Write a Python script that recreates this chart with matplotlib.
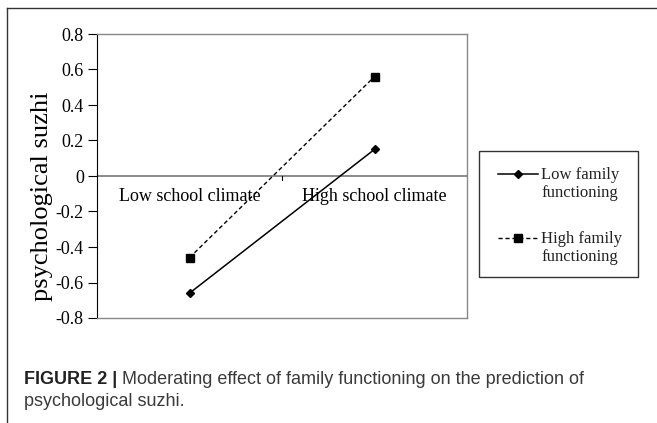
import numpy as np
import matplotlib.pyplot as plt
from matplotlib.lines import Line2D
from matplotlib.patches import Rectangle

# dados
categorias = ["Low school climate", "High school climate"]
low_family = [-0.66, 0.15]
high_family = [-0.46, 0.56]
yticks = [-0.8, -0.6, -0.4, -0.2, 0, 0.2, 0.4, 0.6, 0.8]
ytick_labels = ["-0.8", "-0.6", "-0.4", "-0.2", "0", "0.2", "0.4", "0.6", "0.8"]
series_labels = ["Low family\nfunctioning", "High family\nfunctioning"]

W, H = 657, 423
serif = "Liberation Serif"


def fx(px):
    return px / W


def fy(py):
    return 1 - py / H


fig = plt.figure(figsize=(W / 100, H / 100), dpi=100)
fig.patch.set_facecolor("white")

# moldura externa
fig.add_artist(Line2D([fx(7), 1], [fy(8), fy(8)], color="#333333", lw=1.0))
fig.add_artist(Line2D([fx(7), fx(7)], [0, fy(8)], color="#333333", lw=1.0))

ax = fig.add_axes([fx(97), fy(318), fx(467 - 97), (318 - 34) / H])
x = np.arange(len(categorias))
estilos = [dict(ls="-", marker="D", ms=4, lw=1.1),
           dict(ls=(0, (3, 2)), marker="s", ms=5.5, lw=1.0)]
for vals, st in zip([low_family, high_family], estilos):
    ax.plot(x, vals, color="black", **st)

ax.set_xlim(-0.5, 1.5)
ax.set_ylim(-0.8, 0.8)
ax.set_yticks(yticks)
ax.set_yticklabels(ytick_labels, family=serif, fontsize=13)
ax.tick_params(axis="y", length=6.5, width=0.8, color="black", pad=3)

for s in ["top", "right", "bottom"]:
    ax.spines[s].set_color("#888888")
    ax.spines[s].set_linewidth(1.0)
ax.spines["left"].set_color("black")
ax.spines["left"].set_linewidth(0.8)
ax.axhline(0, color="#777777", lw=1.2, zorder=1)
ax.set_xticks([])
ax.plot([0.5, 0.5], [0, -0.025], color="black", lw=0.8, clip_on=False)
for xi, nome in zip(x, categorias):
    ax.text(xi, -0.065, nome, ha="center", va="top", family=serif, fontsize=13)

fig.text(fx(42), fy(196), "psychological suzhi", rotation=90, ha="center",
         va="center", family=serif, fontsize=19)

# legenda manual
fig.add_artist(Rectangle((fx(479), fy(277)), fx(638 - 479), (277 - 151) / H,
                         fill=False, edgecolor="#333333", lw=1.0))
for i, (lab, st) in enumerate(zip(series_labels, estilos)):
    yy = fy(174 + 64 * i)
    fig.add_artist(Line2D([fx(498), fx(538)], [yy, yy], color="black",
                          ls=st["ls"], lw=st["lw"]))
    fig.add_artist(Line2D([fx(518)], [yy], color="black", marker=st["marker"],
                          ms=st["ms"], ls="none"))
    fig.text(fx(541), fy(184 + 64 * i), lab, ha="left", va="center",
             family=serif, fontsize=12, linespacing=1.2, color="#222222")

# legenda da figura
t1 = fig.text(fx(24), fy(388), "FIGURE 2 |", family="Liberation Sans", weight="bold",
              fontsize=13, color="#222222", va="bottom")
t2 = fig.text(0, 0, " Moderating effect of family functioning on the prediction of",
              family="Liberation Sans", fontsize=13, color="#3a3a3a", va="bottom")
fig.canvas.draw()
bb = t1.get_window_extent()
t2.set_position((bb.x1 / W, bb.y0 / H))
fig.text(fx(24), fy(410), "psychological suzhi.", family="Liberation Sans",
         fontsize=13, color="#3a3a3a", va="bottom")

fig.savefig("out.png", dpi=100)
